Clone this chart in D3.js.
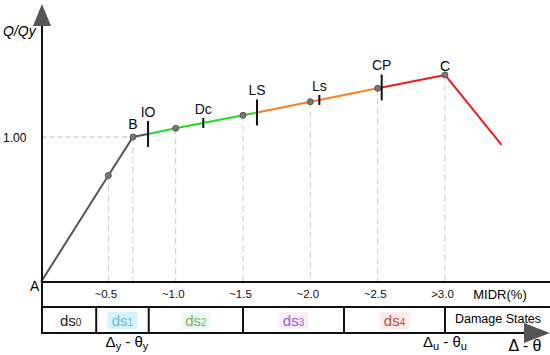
<!DOCTYPE html>
<html>
<head>
<meta charset="utf-8">
<script src="https://cdn.jsdelivr.net/npm/d3@7"></script>
<style>
  body { margin: 0; background: #fff; }
  svg { display: block; font-family: Arial, "Liberation Sans", sans-serif; }
</style>
</head>
<body>
<svg id="chart" width="550" height="355"></svg>
<script>
// capacity curve points (drift %, Q/Qy)
var curve_pts = [[0, 0], [0.5, 0.735], [0.683, 1.0], [1.0, 1.06], [1.5, 1.15], [2.0, 1.243], [2.5, 1.336], [3.0, 1.428]];
var drop_end = [3.42, 0.945];
// performance level ticks on the curve
var levels = ['IO', 'Dc', 'LS', 'Ls', 'CP'];
var level_drift = [0.795, 1.205, 1.604, 2.067, 2.53];
var level_big = [true, false, true, false, true];
// MIDR row
var midr_ticks = [0.5, 1.0, 1.5, 2.0, 2.5, 3.0];
var midr_labels = ['~0.5', '~1.0', '~1.5', '~2.0', '~2.5', '>3.0'];
// damage states row
var ds_bounds = [0, 0.41, 0.8, 1.5, 2.25, 3.0];
var ds_names = ['ds', 'ds', 'ds', 'ds', 'ds'];
var ds_subs = ['0', '1', '2', '3', '4'];
var ds_colors = ['#222', '#6cb6e8', '#7ab648', '#a259d9', '#b5533b'];
var ds_bg = [null, '#d6f3fb', '#eefaf5', '#fbeefb', '#fdeaea'];

var svg = d3.select('#chart');
var x_scale = d3.scaleLinear().domain([0, 3]).range([41, 445]);
var y_scale = d3.scaleLinear().domain([0, 1]).range([282, 137]);
var axis_x = 42;
var row1 = 282, row2 = 307, row3 = 333;
var interp = function (d) {
     // Q/Qy along the curve
     for (var i = 1; i < curve_pts.length; i++) {
          if (d <= curve_pts[i][0]) {
               var a = curve_pts[i - 1], b = curve_pts[i];
               return a[1] + (b[1] - a[1]) * (d - a[0]) / (b[0] - a[0]);
          }
     }
     return curve_pts[curve_pts.length - 1][1];
};

// dashed guides
svg.append('line')
     .attr('x1', axis_x).attr('x2', x_scale(curve_pts[2][0]))
     .attr('y1', y_scale(1)).attr('y2', y_scale(1))
     .style('stroke', '#bbb').style('stroke-dasharray', '5,3');
svg.append('g').selectAll('line')
     .data(curve_pts.slice(1))
     .enter().append('line')
     .attr('x1', d => x_scale(d[0])).attr('x2', d => x_scale(d[0]))
     .attr('y1', d => y_scale(d[1])).attr('y2', row1)
     .style('stroke', '#c8c8c8').style('stroke-dasharray', '6,4');

// curve segments
var seg = function (d0, d1, color) {
     var pts = [[d0, interp(d0)]];
     curve_pts.forEach(p => { if (p[0] > d0 && p[0] < d1) pts.push(p); });
     pts.push([d1, interp(d1)]);
     svg.append('path')
          .attr('d', d3.line().x(p => x_scale(p[0])).y(p => y_scale(p[1]))(pts))
          .style('fill', 'none').style('stroke', color).style('stroke-width', 2);
};
seg(0, level_drift[0], '#555');
seg(level_drift[0], level_drift[2], '#22dd22');
seg(level_drift[2], level_drift[4], '#ff7f27');
seg(level_drift[4], 3.0, '#ee1c1c');
svg.append('line')
     .attr('x1', x_scale(3.0)).attr('y1', y_scale(curve_pts[7][1]))
     .attr('x2', x_scale(drop_end[0])).attr('y2', y_scale(drop_end[1]))
     .style('stroke', '#ee1c1c').style('stroke-width', 2);

// points
svg.append('g').selectAll('circle')
     .data(curve_pts.slice(1))
     .enter().append('circle')
     .attr('cx', d => x_scale(d[0])).attr('cy', d => y_scale(d[1]))
     .attr('r', 3)
     .style('fill', '#777').style('stroke', '#555').style('stroke-width', 1);

// level ticks and labels
levels.forEach((l, i) => {
     var cx = x_scale(level_drift[i]), cy = y_scale(interp(level_drift[i]));
     var h = level_big[i] ? 13 : 5;
     svg.append('line')
          .attr('x1', cx).attr('x2', cx).attr('y1', cy - h).attr('y2', cy + h)
          .style('stroke', '#111').style('stroke-width', 2);
     svg.append('text')
          .attr('x', cx).attr('y', cy - h - 4)
          .style('text-anchor', 'middle').style('font-size', '14px').style('fill', '#111')
          .text(l);
});
svg.append('text')
     .attr('x', x_scale(curve_pts[2][0])).attr('y', y_scale(1) - 8)
     .style('text-anchor', 'middle').style('font-size', '14px').text('B');
svg.append('text')
     .attr('x', x_scale(3.0)).attr('y', y_scale(curve_pts[7][1]) - 4)
     .style('text-anchor', 'middle').style('font-size', '14px').text('C');

// table rows
[row1, row2].forEach(r => {
     svg.append('line').attr('x1', axis_x).attr('x2', 550).attr('y1', r).attr('y2', r)
          .style('stroke', '#111').style('stroke-width', 2);
});
svg.append('line').attr('x1', axis_x).attr('x2', 528).attr('y1', row3).attr('y2', row3)
     .style('stroke', '#111').style('stroke-width', 2);
svg.append('path')
     .attr('d', 'M524,' + (row3 - 10) + 'L550,' + row3 + 'L524,' + (row3 + 10) + 'Z')
     .style('fill', '#555');

// MIDR labels
var midr_axis = d3.axisBottom(x_scale)
     .tickValues(midr_ticks)
     .tickSize(0)
     .tickFormat((d, i) => midr_labels[i]);
var mg = svg.append('g').attr('transform', 'translate(-3,' + (row1 + 5) + ')').call(midr_axis);
mg.select('.domain').remove();
mg.selectAll('text').style('font-size', '11.5px').style('fill', '#111')
     .style('font-family', 'Arial, "Liberation Sans", sans-serif');
svg.append('text').attr('x', 500).attr('y', row1 + 17)
     .style('text-anchor', 'middle').style('font-size', '13px').text('MIDR(%)');

// damage states
svg.append('g').selectAll('line')
     .data(ds_bounds.slice(1))
     .enter().append('line')
     .attr('x1', d => x_scale(d)).attr('x2', d => x_scale(d))
     .attr('y1', row2).attr('y2', row3)
     .style('stroke', '#111').style('stroke-width', 2);
ds_names.forEach((n, i) => {
     var cx = (x_scale(ds_bounds[i]) + x_scale(ds_bounds[i + 1])) / 2 + (i === 0 ? 2 : 0);
     if (ds_bg[i]) {
          svg.append('rect').attr('x', cx - 15).attr('y', row2 + 5).attr('width', 30).attr('height', 17)
               .style('fill', ds_bg[i]);
     }
     var t = svg.append('text').attr('x', cx).attr('y', row2 + 19)
          .style('text-anchor', 'middle').style('font-size', '15px').style('fill', ds_colors[i]);
     t.append('tspan').text(n);
     t.append('tspan').style('font-size', '10px').text(ds_subs[i]);
});
svg.append('text').attr('x', 498).attr('y', row2 + 16)
     .style('text-anchor', 'middle').style('font-size', '12.5px').text('Damage States');

// y axis
svg.append('line').attr('x1', axis_x).attr('x2', axis_x).attr('y1', 20).attr('y2', row3 + 1)
     .style('stroke', '#111').style('stroke-width', 2);
svg.append('path')
     .attr('d', 'M' + (axis_x - 9) + ',26L' + axis_x + ',4L' + (axis_x + 9) + ',26Z')
     .style('fill', '#555');
svg.append('text').attr('x', 3).attr('y', 36)
     .style('font-size', '14px').style('font-style', 'italic').text('Q/Qy');
svg.append('text').attr('x', 3).attr('y', y_scale(1) + 5)
     .style('font-size', '12px').text('1.00');
svg.append('text').attr('x', 30).attr('y', row1 + 9)
     .style('font-size', '14px').text('A');

// bottom labels
var sub_label = function (x, y, sub, size) {
     var t = svg.append('text').attr('x', x).attr('y', y)
          .style('text-anchor', 'middle').style('font-size', size + 'px');
     t.append('tspan').text('\u0394');
     if (sub) t.append('tspan').attr('dy', 3).style('font-size', '11px').text(sub);
     t.append('tspan').attr('dy', sub ? -3 : 0).text(' - \u03b8');
     if (sub) t.append('tspan').attr('dy', 3).style('font-size', '11px').text(sub);
};
sub_label(x_scale(0.683) - 6, row3 + 14, 'y', 15);
sub_label(x_scale(3.0), row3 + 14, 'u', 15);
sub_label(525, row3 + 18, '', 16);
</script>
</body>
</html>
